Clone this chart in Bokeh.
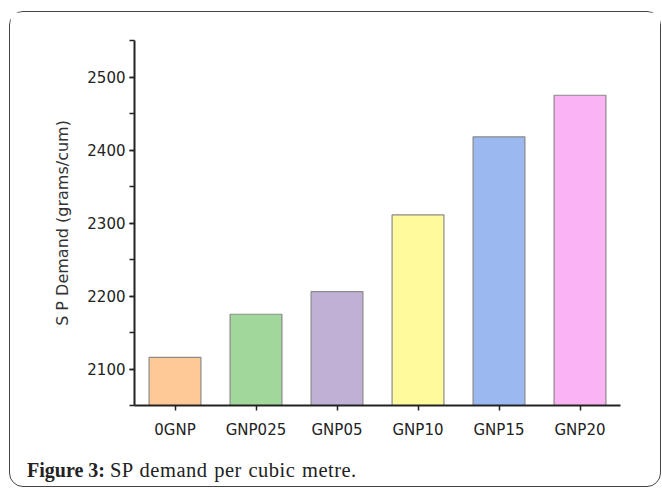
from bokeh.plotting import figure
from bokeh.models import FactorRange, Range1d, SingleIntervalTicker, ColumnDataSource, Div
from bokeh.layouts import column
from bokeh.embed import file_html
from bokeh.resources import INLINE

categories = ["0GNP", "GNP025", "GNP05", "GNP10", "GNP15", "GNP20"]
demand = [2116, 2175, 2206, 2311, 2418, 2475]
colors = ["#FFC896", "#A0D89B", "#C1B0D6", "#FFFA9B", "#9BB9F0", "#FAB4F5"]
y_label = "S P Demand (grams/cum)"
caption_bold = "Figure 3:"
caption_text = "SP demand per cubic metre."

src = ColumnDataSource(dict(cat=categories, val=demand, col=colors))

p = figure(width=650, height=432, output_backend="svg", toolbar_location=None,
           x_range=FactorRange(factors=categories, range_padding=0),
           y_range=Range1d(2050, 2550),
           min_border_left=124, min_border_right=40, min_border_top=28, min_border_bottom=39,
           margin=0)
p.outline_line_color = None
p.xgrid.visible = False
p.ygrid.visible = False

p.vbar(x="cat", top="val", bottom=2050, width=0.64, source=src,
       fill_color="col", line_color="#8a8a8a", line_width=1.2)

p.yaxis.ticker = SingleIntervalTicker(interval=100, num_minor_ticks=2)
for ax in (p.xaxis[0], p.yaxis[0]):
    ax.axis_line_width = 2
    ax.axis_line_color = "#222222"
    ax.major_tick_line_color = "#222222"
    ax.major_tick_line_width = 1.5
    ax.major_tick_in = 0
    ax.major_tick_out = 5
    ax.major_label_text_font = "DejaVu Sans"
    ax.major_label_text_font_size = "15px"
    ax.major_label_text_color = "#222222"
p.yaxis.minor_tick_in = 0
p.yaxis.minor_tick_out = 5
p.yaxis.minor_tick_line_color = "#222222"
p.yaxis.minor_tick_line_width = 1.5
p.yaxis.major_label_standoff = 4
p.xaxis.major_label_standoff = 10
p.yaxis.axis_label = y_label
p.yaxis.axis_label_text_font = "DejaVu Sans"
p.yaxis.axis_label_text_font_size = "16px"
p.yaxis.axis_label_text_font_style = "normal"
p.yaxis.axis_label_text_color = "#333333"
p.yaxis.axis_label_standoff = 12

cap = Div(width=650, height=42, margin=0,
          text=('<div style="font-family: \'Liberation Serif\', serif; font-size: 20px; '
                'color: #222222; padding-left: 17px; padding-top: 12px; white-space: nowrap;">'
                f'<b>{caption_bold}</b> '
                f'<span style="font-size: 20.5px; letter-spacing: 0.5px; word-spacing: 1px;">{caption_text}</span></div>'))

layout = column(p, cap, spacing=0, margin=(11, 0, 0, 9),
                styles={"border": "1px solid #444444", "border-radius": "14px",
                        "background-color": "white"})

open("out.html", "w").write(file_html(layout, INLINE))
